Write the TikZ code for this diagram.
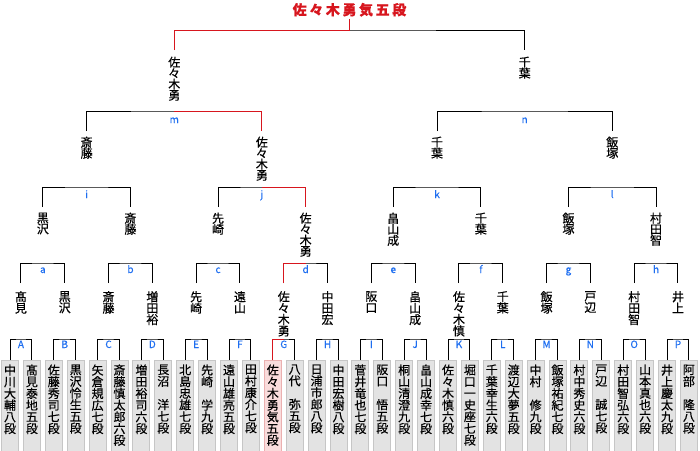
\documentclass[tikz,border=0pt]{standalone}
\usepackage{fontspec}
\setmainfont{Noto Sans CJK JP}[FakeBold=0.4]
\usetikzlibrary{positioning}

\definecolor{winred}{HTML}{D7161E}
\definecolor{lblblue}{HTML}{1E6EF0}
\definecolor{boxgray}{HTML}{E3E3E3}
\definecolor{boxline}{HTML}{C6C6C6}
\definecolor{winpink}{HTML}{F9DCDC}
\definecolor{winline}{HTML}{EBB0B0}

% vertical (tate) text and letter-spaced title text
\def\tateend{!tateend!}
\def\tate#1#2{\vbox{\baselineskip=#1\relax\lineskiplimit=-20pt\relax\expandafter\tateloop#2\tateend}}
\def\tateloop#1{\ifx#1\tateend\else\hbox to 1em{\hss#1\hss}\expandafter\tateloop\fi}
\def\leaf#1{\vbox to 96pt{\tate{11.7pt}{#1}\vss}}
\def\yoko#1{\expandafter\yokoloop#1\tateend}
\def\yokoloop#1{\ifx#1\tateend\else\hbox to 16.6pt{\hss#1\hss}\expandafter\yokoloop\fi}

\begin{document}
\begin{tikzpicture}[
    x=1pt, y=-1pt,
    player/.style={draw=boxline, fill=boxgray, line width=1pt, anchor=north, inner xsep=0pt, inner ysep=4pt, minimum width=17pt, font=\fontsize{12}{12}\selectfont},
    champbox/.style={player, draw=winline, fill=winpink},
    tatename/.style={inner sep=0pt, anchor=north, font=\fontsize{12}{12}\selectfont},
    bracket/.style={line width=1pt},
    winpath/.style={bracket, draw=winred},
    matchlabel/.style={anchor=base, inner sep=0pt, text=lblblue, font=\fontsize{10}{10}\selectfont},
    champlabel/.style={anchor=base, inner sep=2pt, text=winred, font=\fontsize{14}{14}\selectfont\bfseries}
]
\useasboundingbox (0,0) rectangle (700,450);
\clip (0,0) rectangle (700,450);

% Players
\foreach \who [count=\pk from 0] in {中川大輔八段,髙見泰地五段,佐藤秀司七段,黒沢怜生五段,
    矢倉規広七段,斎藤慎太郎六段,増田裕司六段,長沼　洋七段,
    北島忠雄七段,先崎　学九段,遠山雄亮五段,田村康介七段,
    佐々木勇気五段,八代　弥五段,日浦市郎八段,中田宏樹八段,
    菅井竜也七段,阪口　悟五段,桐山清澄九段,畠山成幸七段,
    佐々木慎六段,堀口一史座七段,千葉幸生六段,渡辺大夢五段,
    中村　修九段,飯塚祐紀七段,村中秀史六段,戸辺　誠七段,
    村田智弘六段,山本真也六段,井上慶太九段,阿部　隆八段}{
  \ifnum\pk=12\relax
    \node[champbox] (p-\pk) at ({10+21.9*\pk},360) {\leaf{\who}};
  \else
    \node[player] (p-\pk) at ({10+21.9*\pk},360) {\leaf{\who}};
  \fi
}

% Round 1 (A-P)
\foreach \lab [count=\mj from 0] in {A,B,C,D,E,F,G,H,I,J,K,L,M,N,O,P}{
  \pgfmathtruncatemacro\lft{2*\mj}
  \pgfmathtruncatemacro\rgt{2*\mj+1}
  \coordinate (a-\mj) at ({10+21.9*(2*\mj+0.5)},339);
  \draw[bracket] (p-\lft.north) |- (a-\mj) -| (p-\rgt.north);
  \node[matchlabel] (la-\mj) at ([yshift=-9pt]a-\mj) {\lab};
}
\foreach \who [count=\mj from 0] in {髙見,黒沢,斎藤,増田裕,先崎,遠山,佐々木勇,中田宏,
    阪口,畠山成,佐々木慎,千葉,飯塚,戸辺,村田智,井上}
  \node[tatename] (w1-\mj) at ({10+21.9*(2*\mj+0.5)},291) {\tate{11.4pt}{\who}};

% Round 2 (a-h)
\foreach \lab [count=\mj from 0] in {a,b,c,d,e,f,g,h}{
  \pgfmathtruncatemacro\lft{2*\mj}
  \pgfmathtruncatemacro\rgt{2*\mj+1}
  \coordinate (b-\mj) at ({10+21.9*(4*\mj+1.5)},263);
  \draw[bracket] ([yshift=8pt]w1-\lft.north) |- (b-\mj) -| ([yshift=8pt]w1-\rgt.north);
  \node[matchlabel] (lb-\mj) at ([yshift=-10pt]b-\mj) {\lab};
}
\foreach \who [count=\mj from 0] in {黒沢,斎藤,先崎,佐々木勇,畠山成,千葉,飯塚,村田智}
  \node[tatename] (w2-\mj) at ({10+21.9*(4*\mj+1.5)},212.5) {\tate{11pt}{\who}};

% Round 3 (i-l)
\foreach \lab [count=\mj from 0] in {i,j,k,l}{
  \pgfmathtruncatemacro\lft{2*\mj}
  \pgfmathtruncatemacro\rgt{2*\mj+1}
  \coordinate (c-\mj) at ({10+21.9*(8*\mj+3.5)},187);
  \draw[bracket] ([yshift=5.5pt]w2-\lft.north) |- (c-\mj) -| ([yshift=5.5pt]w2-\rgt.north);
  \node[matchlabel] (lc-\mj) at ([yshift=-11pt]c-\mj) {\lab};
}
\foreach \who [count=\mj from 0] in {斎藤,佐々木勇,千葉,飯塚}
  \node[tatename] (w3-\mj) at ({10+21.9*(8*\mj+3.5)},136.5) {\tate{11pt}{\who}};

% Semifinals (m, n)
\foreach \lab [count=\mj from 0] in {m,n}{
  \pgfmathtruncatemacro\lft{2*\mj}
  \pgfmathtruncatemacro\rgt{2*\mj+1}
  \coordinate (d-\mj) at ({10+21.9*(16*\mj+7.5)},111);
  \draw[bracket] ([yshift=5.5pt]w3-\lft.north) |- (d-\mj) -| ([yshift=5.5pt]w3-\rgt.north);
  \node[matchlabel] (ld-\mj) at ([yshift=-12pt]d-\mj) {\lab};
}
\foreach \who [count=\mj from 0] in {佐々木勇,千葉}
  \node[tatename] (w4-\mj) at ({10+21.9*(16*\mj+7.5)},56.5) {\tate{11pt}{\who}};

% Final
\coordinate (fin) at ({10+21.9*15.5},30);
\draw[bracket] ([yshift=6.5pt]w4-0.north) |- (fin) -| ([yshift=6.5pt]w4-1.north);
\node[champlabel] (champ) at ({10+21.9*15.5},15) {\yoko{佐々木勇気五段}};

% Winner's path
\draw[winpath] (p-12.north) |- (a-6);
\draw[winpath] ([yshift=8pt]w1-6.north) |- (b-3);
\draw[winpath] (c-1) -| ([yshift=5.5pt]w2-3.north);
\draw[winpath] (d-0) -| ([yshift=5.5pt]w3-1.north);
\draw[winpath] (champ.south) -- (fin) -| ([yshift=6.5pt]w4-0.north);
\end{tikzpicture}
\end{document}
